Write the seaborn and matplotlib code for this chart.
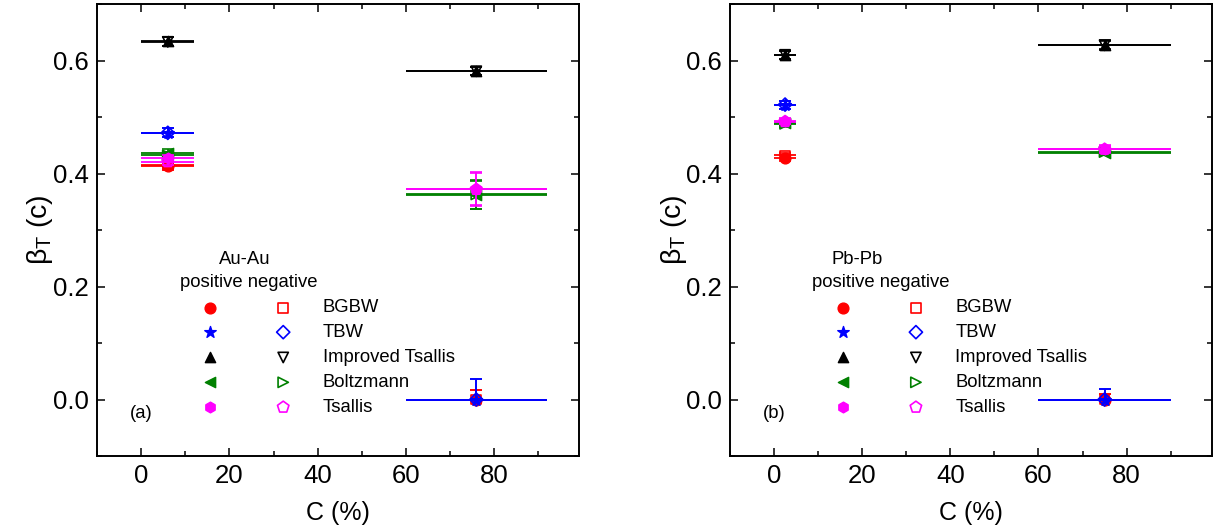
import numpy as np
import pandas as pd
import matplotlib
matplotlib.use("Agg")
import matplotlib.pyplot as plt
from matplotlib.ticker import MultipleLocator, FormatStrFormatter
import seaborn as sns

sns.set_style("ticks")
plt.rcParams['font.family'] = ['Liberation Sans', 'DejaVu Sans']
plt.rcParams['mathtext.fontset'] = 'custom'
plt.rcParams['mathtext.rm'] = 'Liberation Sans'
plt.rcParams['mathtext.it'] = 'Liberation Sans'
plt.rcParams['text.color'] = 'black'
plt.rcParams['axes.labelcolor'] = 'black'
plt.rcParams['xtick.color'] = 'black'
plt.rcParams['ytick.color'] = 'black'

# ---------------- data ----------------
models = ["BGBW", "TBW", "Improved Tsallis", "Boltzmann", "Tsallis"]
colors = ["#FF0000", "#0000FF", "#000000", "#008000", "#FF00FF"]
pos_markers = ["o", "*", "^", "<", "h"]
neg_markers = ["s", "D", "v", ">", "p"]

# centrality classes (center, half width)
au_cent = [6, 76]
au_cent_err = [6, 16]
pb_cent = [2.5, 75]
pb_cent_err = [2.5, 15]

# Au-Au  beta_T  (group 1 = central, group 2 = peripheral)
au_pos_g1 = [0.413, 0.472, 0.634, 0.437, 0.427]
au_neg_g1 = [0.415, 0.472, 0.633, 0.432, 0.421]
au_pos_g2 = [0.000, 0.000, 0.582, 0.362, 0.373]
au_neg_g2 = [0.000, 0.000, 0.581, 0.363, 0.372]
au_err_g1 = [0.006, 0.008, 0.008, 0.006, 0.006]
au_err_g2 = [0.016, 0.036, 0.007, 0.025, 0.029]

# Pb-Pb  beta_T
pb_pos_g1 = [0.428, 0.522, 0.609, 0.490, 0.493]
pb_neg_g1 = [0.432, 0.522, 0.610, 0.488, 0.492]
pb_pos_g2 = [0.000, 0.000, 0.628, 0.437, 0.444]
pb_neg_g2 = [0.000, 0.000, 0.627, 0.438, 0.443]
pb_err_g1 = [0.005, 0.007, 0.007, 0.005, 0.005]
pb_err_g2 = [0.010, 0.018, 0.008, 0.005, 0.006]

panels = [
    dict(system="Au-Au", tag="(a)", cent=au_cent, cent_err=au_cent_err,
         pos=[au_pos_g1, au_pos_g2], neg=[au_neg_g1, au_neg_g2],
         err=[au_err_g1, au_err_g2], sys_x=0.306, ylab_x=-0.088),
    dict(system="Pb-Pb", tag="(b)", cent=pb_cent, cent_err=pb_cent_err,
         pos=[pb_pos_g1, pb_pos_g2], neg=[pb_neg_g1, pb_neg_g2],
         err=[pb_err_g1, pb_err_g2], sys_x=0.263, ylab_x=-0.085),
]

pos_sizes = {"o": 60, "*": 75, "^": 55, "<": 55, "h": 60}
neg_sizes = {"s": 50, "D": 45, "v": 55, ">": 55, "p": 75}

fig = plt.figure(figsize=(12.13, 5.29), dpi=100)
axes = [fig.add_axes([0.0802, 0.138, 0.3971, 0.8544]),
        fig.add_axes([0.6018, 0.138, 0.3971, 0.8544])]

lab_fs = 17.5
tick_fs = 18.5
leg_fs = 13.3

for ax, p in zip(axes, panels):
    for i, (model, col) in enumerate(zip(models, colors)):
        z = 3 + i
        for charge, vals, mk in (("pos", p["pos"], pos_markers[i]), ("neg", p["neg"], neg_markers[i])):
            xs = p["cent"]
            ys = [vals[0][i], vals[1][i]]
            es = [p["err"][0][i], p["err"][1][i]]
            # lower error not drawn below zero (beta_T >= 0)
            lo = [min(e, y) for e, y in zip(es, ys)]
            # horizontal (centrality bin) bars
            ax.errorbar(xs, ys, xerr=p["cent_err"], fmt="none", ecolor=col,
                        elinewidth=1.3, capsize=0, zorder=z)
            # vertical error bars
            ax.errorbar(xs, ys, yerr=[lo, es], fmt="none", ecolor=col,
                        elinewidth=1.2, capsize=4, capthick=1.2, zorder=z)
            df = pd.DataFrame({"C": xs, "beta": ys})
            if charge == "pos":
                sns.scatterplot(data=df, x="C", y="beta", marker=mk, s=pos_sizes[mk],
                                color=col, edgecolor=col, linewidth=1.0,
                                ax=ax, legend=False, zorder=z + 0.5)
            else:
                sns.scatterplot(data=df, x="C", y="beta", marker=mk, s=neg_sizes[mk],
                                color=col, facecolor="none", edgecolor=col,
                                linewidth=1.2, ax=ax, legend=False, zorder=z + 0.5)

    ax.set_xlim(-10, 99.3)
    ax.set_ylim(-0.1, 0.7)
    ax.xaxis.set_major_locator(MultipleLocator(20))
    ax.xaxis.set_minor_locator(MultipleLocator(10))
    ax.yaxis.set_major_locator(MultipleLocator(0.2))
    ax.yaxis.set_minor_locator(MultipleLocator(0.1))
    ax.yaxis.set_major_formatter(FormatStrFormatter("%.1f"))
    ax.set_xticks([0, 20, 40, 60, 80])
    ax.tick_params(which="both", direction="in", top=True, right=True,
                   width=1.1, labelsize=tick_fs, pad=6)
    ax.tick_params(which="major", length=6)
    ax.tick_params(which="minor", length=3.5)
    for s in ax.spines.values():
        s.set_linewidth(1.4)
        s.set_color("black")
    ax.set_xlabel("C (%)", fontsize=lab_fs + 0.5, labelpad=9)
    ax.set_ylabel(r"$\beta_\mathrm{T}$ (c)", fontsize=lab_fs + 3)
    ax.yaxis.set_label_coords(p["ylab_x"], 0.5)

    # custom legend
    ax.text(p["sys_x"], 0.434, p["system"], transform=ax.transAxes,
            ha="center", va="center", fontsize=leg_fs)
    ax.text(0.314, 0.383, "positive negative", transform=ax.transAxes,
            ha="center", va="center", fontsize=leg_fs)
    rows = [0.328, 0.274, 0.218, 0.163, 0.108]
    for i, (model, col) in enumerate(zip(models, colors)):
        ax.scatter([0.234], [rows[i]], marker=pos_markers[i], s=pos_sizes[pos_markers[i]],
                   color=col, transform=ax.transAxes, zorder=10, clip_on=False)
        ax.scatter([0.386], [rows[i]], marker=neg_markers[i], s=neg_sizes[neg_markers[i]],
                   facecolors="none", edgecolors=col, linewidths=1.2,
                   transform=ax.transAxes, zorder=10, clip_on=False)
        ax.text(0.468, rows[i], model, transform=ax.transAxes,
                ha="left", va="center", fontsize=leg_fs)
    ax.text(0.092, 0.095, p["tag"], transform=ax.transAxes,
            ha="center", va="center", fontsize=leg_fs)

fig.savefig("out.png", dpi=100)
